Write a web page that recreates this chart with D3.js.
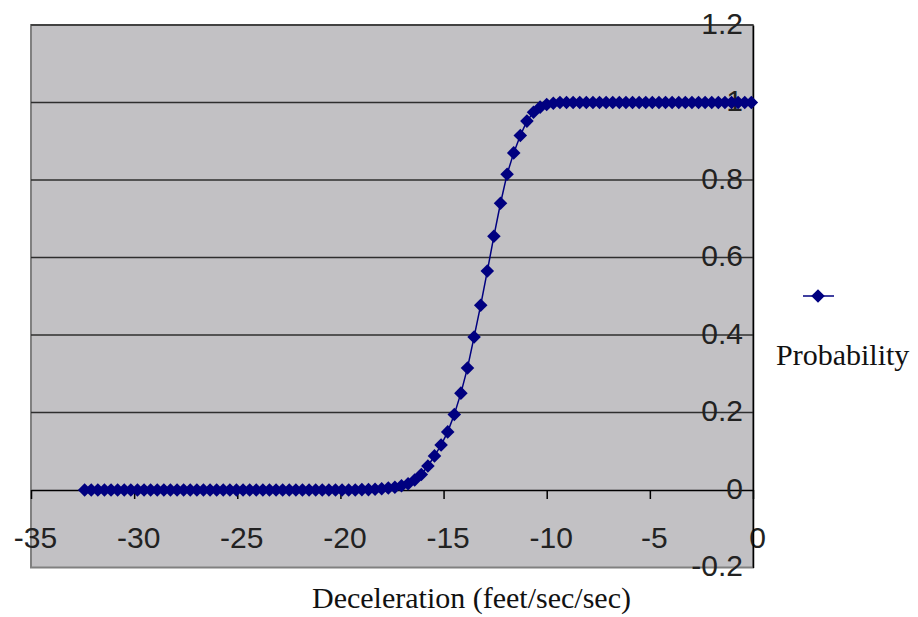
<!DOCTYPE html>
<html>
<head>
<meta charset="utf-8">
<script src="https://cdn.jsdelivr.net/npm/d3@7"></script>
<style>
  body { margin: 0; background: #fff; }
</style>
</head>
<body>
<div id="chart"></div>
<script>
// deceleration values (x)
var decel = [
  -32.40, -32.08, -31.76, -31.44, -31.12, -30.80, -30.48, -30.16, -29.84, -29.52,
  -29.20, -28.88, -28.56, -28.24, -27.92, -27.60, -27.28, -26.96, -26.64, -26.32,
  -26.00, -25.68, -25.36, -25.04, -24.72, -24.40, -24.08, -23.76, -23.44, -23.12,
  -22.80, -22.48, -22.16, -21.84, -21.52, -21.20, -20.88, -20.56, -20.24, -19.92,
  -19.60, -19.28, -18.96, -18.64, -18.32, -18.00, -17.68, -17.36, -17.04, -16.72,
  -16.40, -16.08, -15.76, -15.44, -15.12, -14.80, -14.48, -14.16, -13.84, -13.52,
  -13.20, -12.88, -12.56, -12.24, -11.92, -11.60, -11.28, -10.96, -10.64, -10.32,
  -10.00, -9.68, -9.36, -9.04, -8.72, -8.40, -8.08, -7.76, -7.44, -7.12,
  -6.80, -6.48, -6.16, -5.84, -5.52, -5.20, -4.88, -4.56, -4.24, -3.92,
  -3.60, -3.28, -2.96, -2.64, -2.32, -2.00, -1.68, -1.36, -1.04, -0.72,
  -0.40, -0.08
];

// probability values (y)
var probability = [
  0, 0, 0, 0, 0, 0, 0, 0, 0, 0,
  0, 0, 0, 0, 0, 0, 0, 0, 0, 0,
  0, 0, 0, 0, 0, 0, 0, 0, 0, 0,
  0, 0, 0, 0, 0, 0, 0, 0, 0, 0,
  0, 0, 0.001, 0.001, 0.002, 0.003, 0.005, 0.007, 0.011, 0.016,
  0.026, 0.04, 0.062, 0.088, 0.116, 0.15, 0.195, 0.25, 0.315, 0.395,
  0.477, 0.565, 0.655, 0.74, 0.815, 0.87, 0.915, 0.952, 0.975, 0.988,
  0.995, 0.998, 1, 1, 1, 1, 1, 1, 1, 1,
  1, 1, 1, 1, 1, 1, 1, 1, 1, 1,
  1, 1, 1, 1, 1, 1, 1, 1, 1, 1,
  1, 1
];

var xTicks = [-35, -30, -25, -20, -15, -10, -5, 0];
var yTicks = [-0.2, 0, 0.2, 0.4, 0.6, 0.8, 1, 1.2];
var seriesName = "Probability";
var xTitle = "Deceleration (feet/sec/sec)";

var width = 918, height = 617,
    plot = {left: 31, right: 753, top: 25, bottom: 567.5},
    navy = "#000080";

var data = decel.map(function(d, i){ return {x: d, y: probability[i]}; });

var x = d3.scaleLinear().domain([-35, 0]).range([plot.left, plot.right]),
    y = d3.scaleLinear().domain([-0.2, 1.2]).range([plot.bottom, plot.top]);

var svg = d3.select("#chart").append("svg")
    .attr("width", width)
    .attr("height", height);

// plot area
svg.append("rect")
    .attr("x", plot.left)
    .attr("y", plot.top)
    .attr("width", plot.right - plot.left)
    .attr("height", plot.bottom - plot.top)
    .attr("fill", "#c2c1c4")
    .attr("stroke", "#808080")
    .attr("stroke-width", 2);

// gridlines
svg.append("g").selectAll("line")
    .data(yTicks.filter(function(d){ return d > 0; }))
    .enter().append("line")
    .attr("x1", plot.left)
    .attr("x2", plot.right)
    .attr("y1", function(d){ return y(d); })
    .attr("y2", function(d){ return y(d); })
    .attr("stroke", "#2e2e2e")
    .attr("stroke-width", 1.6);

var fmt = function(d){ return String(+d.toFixed(1)); };

// x axis sits at y = 0
var gx = svg.append("g")
    .attr("transform", "translate(0," + y(0) + ")")
    .call(d3.axisBottom(x).tickValues(xTicks).tickSize(9).tickSizeOuter(0).tickFormat(fmt));
gx.select(".domain").attr("stroke", "#000").attr("stroke-width", 1.5);
gx.selectAll(".tick line").attr("stroke", "#000").attr("stroke-width", 1.5);
gx.selectAll("text")
    .attr("y", 58).attr("dy", 0).attr("dx", 4)
    .attr("fill", "#222")
    .style("font", "30px 'Liberation Sans', Arial, sans-serif");

// y axis sits at x = 0 (right edge)
var gy = svg.append("g")
    .attr("transform", "translate(" + x(0) + ",0)")
    .call(d3.axisLeft(y).tickValues(yTicks).tickSize(0).tickSizeOuter(0).tickPadding(10).tickFormat(fmt));
gy.select(".domain").attr("stroke", "#000").attr("stroke-width", 1.5);
gy.selectAll("text")
    .attr("dy", 8)
    .attr("fill", "#222")
    .style("font", "30px 'Liberation Sans', Arial, sans-serif");

// series
var line = d3.line()
    .x(function(d){ return x(d.x); })
    .y(function(d){ return y(d.y); });

svg.append("path")
    .datum(data)
    .attr("fill", "none")
    .attr("stroke", navy)
    .attr("stroke-width", 1.5)
    .attr("d", line);

var diamond = d3.symbol().type(d3.symbolSquare).size(92);

svg.append("g").selectAll("path")
    .data(data)
    .enter().append("path")
    .attr("d", diamond)
    .attr("transform", function(d){ return "translate(" + x(d.x) + "," + y(d.y) + ") rotate(45)"; })
    .attr("fill", navy);

// axis title
svg.append("text")
    .attr("x", 312)
    .attr("y", 608)
    .attr("fill", "#111")
    .style("font", "30px 'Liberation Serif', 'Times New Roman', serif")
    .text(xTitle);

// legend
var legend = svg.append("g").attr("transform", "translate(818,296)");
legend.append("line")
    .attr("x1", -15).attr("x2", 16)
    .attr("stroke", navy).attr("stroke-width", 1.5);
legend.append("path")
    .attr("d", diamond)
    .attr("transform", "rotate(45)")
    .attr("fill", navy);
legend.append("text")
    .attr("x", -42)
    .attr("y", 69)
    .attr("fill", "#111")
    .style("font", "30px 'Liberation Serif', 'Times New Roman', serif")
    .text(seriesName);
</script>
</body>
</html>
